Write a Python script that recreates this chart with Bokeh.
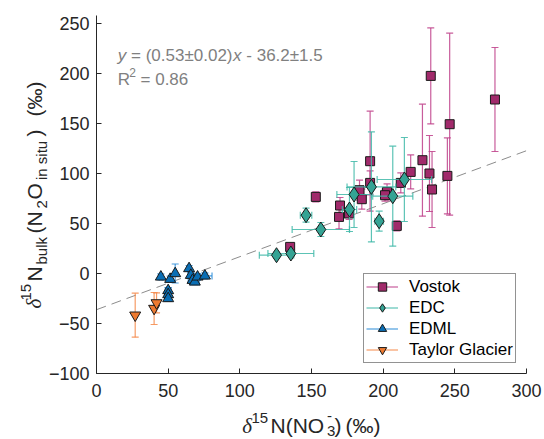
import math
from bokeh.plotting import figure
from bokeh.models import Range1d, Label, Legend, LegendItem, FixedTicker
from bokeh.embed import file_html
from bokeh.resources import INLINE

# ---------------- data ----------------
vostok_x = [233.2, 246.4, 278.0, 190.9, 227.4, 219.2, 232.3, 244.8, 234.1, 153.0, 190.9,
            212.3, 202.7, 201.3, 183.5, 185.1, 169.9, 169.2, 176.2, 209.5, 135.1]
vostok_y = [197.6, 149.3, 174.0, 112.3, 113.3, 101.6, 100.0, 97.6, 84.0, 76.6, 90.6,
            90.6, 81.6, 78.3, 83.3, 74.3, 68.0, 56.6, 60.0, 47.6, 26.6]
vostok_yerr = [48, 91, 52, 50, 56, 17, 38, 38, 38, 5, 12,
               10, 8, 6, 10, 10, 8, 12, 6, 5, 3]

edc_x = [146.2, 156.5, 135.6, 125.6, 176.5, 179.7, 191.8, 197.2, 206.7, 214.8]
edc_y = [58.3, 44.0, 20.0, 18.3, 64.0, 79.0, 86.6, 52.3, 77.3, 94.0]
edc_xerr = [4, 20, 16, 12, 5, 12, 17, 3, 14, 19]
edc_yerr = [7, 7, 3, 3, 22, 33, 55, 10, 50, 42]

edml_x = [44.9, 51.4, 54.9, 50.0, 50.0, 50.0, 64.6, 65.8, 67.0, 68.6, 70.5, 75.6]
edml_y = [-3.4, -5.7, 0.0, -17.0, -21.0, -25.0, 5.0, -1.7, -6.7, -8.4, -3.4, -2.4]
edml_xerr = [1, 1, 1, 2, 2, 2, 1, 2, 3, 3, 2, 5]
edml_yerr = [3, 3, 9.5, 3, 3, 3, 3, 3, 3, 3, 3, 3]

taylor_x = [27.0, 40.2, 41.9]
taylor_y = [-41.7, -35.0, -29.4]
taylor_yerr = [22, 16, 10]

fit_slope, fit_slope_err = 0.53, 0.02
fit_intercept, fit_intercept_err = -36.2, 1.5
fit_r2 = 0.86

x_ticks = [0, 50, 100, 150, 200, 250, 300]
y_ticks = [-100, -50, 0, 50, 100, 150, 200, 250]
x_lim = (0, 300)
y_lim = (-100, 258)

# ---------------- layout: frame = whole canvas, axes pinned inside ----------------
W, H = 544, 439
AL, AR, AT, AB = 96, 526, 15, 373   # where the axes box sits on the canvas (pixels)
sx = (AR - AL) / (x_lim[1] - x_lim[0])
sy = (AB - AT) / (y_lim[1] - y_lim[0])
xr = Range1d(x_lim[0] - AL / sx, x_lim[1] + (W - AR) / sx)
yr = Range1d(y_lim[0] - (H - AB) / sy, y_lim[1] + AT / sy)

p = figure(width=W, height=H, x_range=xr, y_range=yr, output_backend="svg",
           toolbar_location=None, min_border=0, min_border_left=0, min_border_right=0,
           min_border_top=0, min_border_bottom=0)
p.outline_line_color = None
p.grid.visible = False
p.background_fill_color = "white"
p.border_fill_color = "white"

AX = "#262626"
p.xaxis.fixed_location = y_lim[0]
p.yaxis.fixed_location = x_lim[0]
p.xaxis.bounds = x_lim
p.yaxis.bounds = y_lim
for ax in (p.xaxis[0], p.yaxis[0]):
    ax.axis_line_color = AX
    ax.axis_line_width = 1
    ax.major_tick_line_color = AX
    ax.major_tick_in = 5
    ax.major_tick_out = 0
    ax.minor_tick_line_color = None
    ax.major_label_text_font = "Liberation Sans"
    ax.major_label_text_font_size = "18px"
    ax.major_label_text_color = AX
p.xaxis.ticker = FixedTicker(ticks=x_ticks)
p.yaxis.ticker = FixedTicker(ticks=y_ticks)
p.xaxis.major_label_standoff = 10
p.yaxis.major_label_standoff = 7

# regression line over the x extent of the axes
fx = [x_lim[0], x_lim[1]]
fy = [fit_slope * v + fit_intercept for v in fx]
p.line(x=fx, y=fy, line_color="#8c8c8c", line_dash="10 6", line_width=1)


def errorbars(xs, ys, yerr, xerr, color):
    lo = [y - e for y, e in zip(ys, yerr)]
    hi = [y + e for y, e in zip(ys, yerr)]
    p.segment(x0=xs, y0=lo, x1=xs, y1=hi, line_color=color, line_width=1.2, line_alpha=0.85)
    p.scatter(x=xs + xs, y=lo + hi, marker="dash", size=7, line_color=color, line_width=1.2,
              line_alpha=0.85)
    if xerr is not None:
        xl = [x - e for x, e in zip(xs, xerr)]
        xh = [x + e for x, e in zip(xs, xerr)]
        p.segment(x0=xl, y0=ys, x1=xh, y1=ys, line_color=color, line_width=1.2, line_alpha=0.85)
        p.scatter(x=xl + xh, y=ys + ys, marker="dash", angle=math.pi / 2, size=7,
                  line_color=color, line_width=1.2, line_alpha=0.85)


series = [
    ("Vostok", vostok_x, vostok_y, vostok_yerr, None, "square", 9, "#A12A6B", "#BE3F8A"),
    ("EDC", edc_x, edc_y, edc_yerr, edc_xerr, "diamond", 15, "#34A394", "#3FB8A8"),
    ("EDML", edml_x, edml_y, edml_yerr, edml_xerr, "triangle", 11, "#0A6EB4", "#2A8CD8"),
    ("Taylor Glacier", taylor_x, taylor_y, taylor_yerr, None, "inverted_triangle", 11,
     "#EE7A30", "#F58A4A"),
]

items = []
nan = float("nan")
for name, xs, ys, ye, xe, marker, size, fill, ecol in series:
    errorbars(xs, ys, ye, xe, ecol)
    sr = p.scatter(x=xs, y=ys, marker=marker, size=size, fill_color=fill,
                   line_color="#1a1a1a", line_width=1)
    lr = p.line(x=[nan], y=[nan], line_color=ecol, line_width=1.2)
    items.append(LegendItem(label=name, renderers=[lr, sr]))

legend = Legend(items=items, location=(363, H - 363), margin=0, padding=2, spacing=0,
                glyph_height=21, label_height=21, glyph_width=32, label_standoff=11,
                border_line_color=AX, border_line_width=1, background_fill_color="white",
                background_fill_alpha=1.0, label_text_font="Liberation Sans",
                label_text_font_size="17px", label_text_color="black",
                label_text_baseline="middle")
p.add_layout(legend)

# ---------------- texts ----------------
ARIAL = {' ': 278, '\u00a0': 278, '=': 584, '(': 333, ')': 333, '.': 278, '\u00b1': 584,
         '-': 333, 'x': 500, 'y': 500, 'R': 667}
for d in "0123456789":
    ARIAL[d] = 556


def tw(s, size):
    return sum(ARIAL.get(c, 556) for c in s) / 1000.0 * size


def txt(s, cx, cy, size, color, style="normal", font="Liberation Sans", angle=0.0):
    p.add_layout(Label(x=cx, y=H - cy, x_units="screen", y_units="screen", text=s,
                       text_font=font, text_font_size=f"{size}px", text_font_style=style,
                       text_color=color, text_baseline="alphabetic", text_align="left",
                       angle=angle))


NB = "\u00a0"
GRAY = "#808080"
x0, b1, b2, fs = 117.3, 55.0, 78.5, 17
part2 = f"{NB}={NB}({fit_slope:.2f}\u00b1{fit_slope_err:.2f})"
part4 = f"{NB}-{NB}{abs(fit_intercept):.1f}\u00b1{fit_intercept_err:.1f}"
cx = x0
txt("y", cx, b1, fs, GRAY, "italic"); cx += tw("y", fs)
txt(part2, cx, b1, fs, GRAY); cx += tw(part2, fs)
txt("x", cx, b1, fs, GRAY, "italic"); cx += tw("x", fs)
txt(part4, cx, b1, fs, GRAY)
cx = x0
txt("R", cx, b2, fs, GRAY); cx += tw("R", fs)
txt("2", cx, b2 - 7, 12, GRAY); cx += tw("2", 12)
txt(f"{NB}={NB}{fit_r2:.2f}", cx, b2, fs, GRAY)

# x-axis label: δ15N(NO3-) (‰)
LC = "#262626"
MF, SF = 21, 15
xb = 425.0
txt("\u03b4", 241.7, xb, MF, LC, "italic", "Liberation Serif")
txt("15", 251.0, xb - 8, SF, LC)
txt("N(NO", 270.0, xb, MF, LC)
txt("-", 326.5, xb - 10, SF, LC)
txt("3", 326.5, xb + 5, SF, LC)
txt(")", 334.0, xb, MF, LC)
txt("(\u2030)", 345.0, xb, MF, LC)

# y-axis label: δ15Nbulk(N2Oin situ) (‰), rotated
A = math.pi / 2
yb, ysub, ysup = 33.5, 41.0, 25.5
txt("\u03b4", yb, 308.0, MF, LC, "italic", "Liberation Serif", A)
txt("15", ysup, 300.0, SF, LC, angle=A)
txt("N", yb, 281.0, MF, LC, angle=A)
txt("bulk", ysub, 264.0, SF, LC, angle=A)
txt("(N", yb, 233.0, MF, LC, angle=A)
txt("2", ysub, 208.0, SF, LC, angle=A)
txt("O", yb, 199.0, MF, LC, angle=A)
txt("in" + NB + "situ", ysub, 179.5, SF, LC, angle=A)
txt(")", yb, 136.0, MF, LC, angle=A)
txt("(\u2030)", yb, 116.0, MF, LC, angle=A)

open("out.html", "w").write(file_html(p, INLINE))
